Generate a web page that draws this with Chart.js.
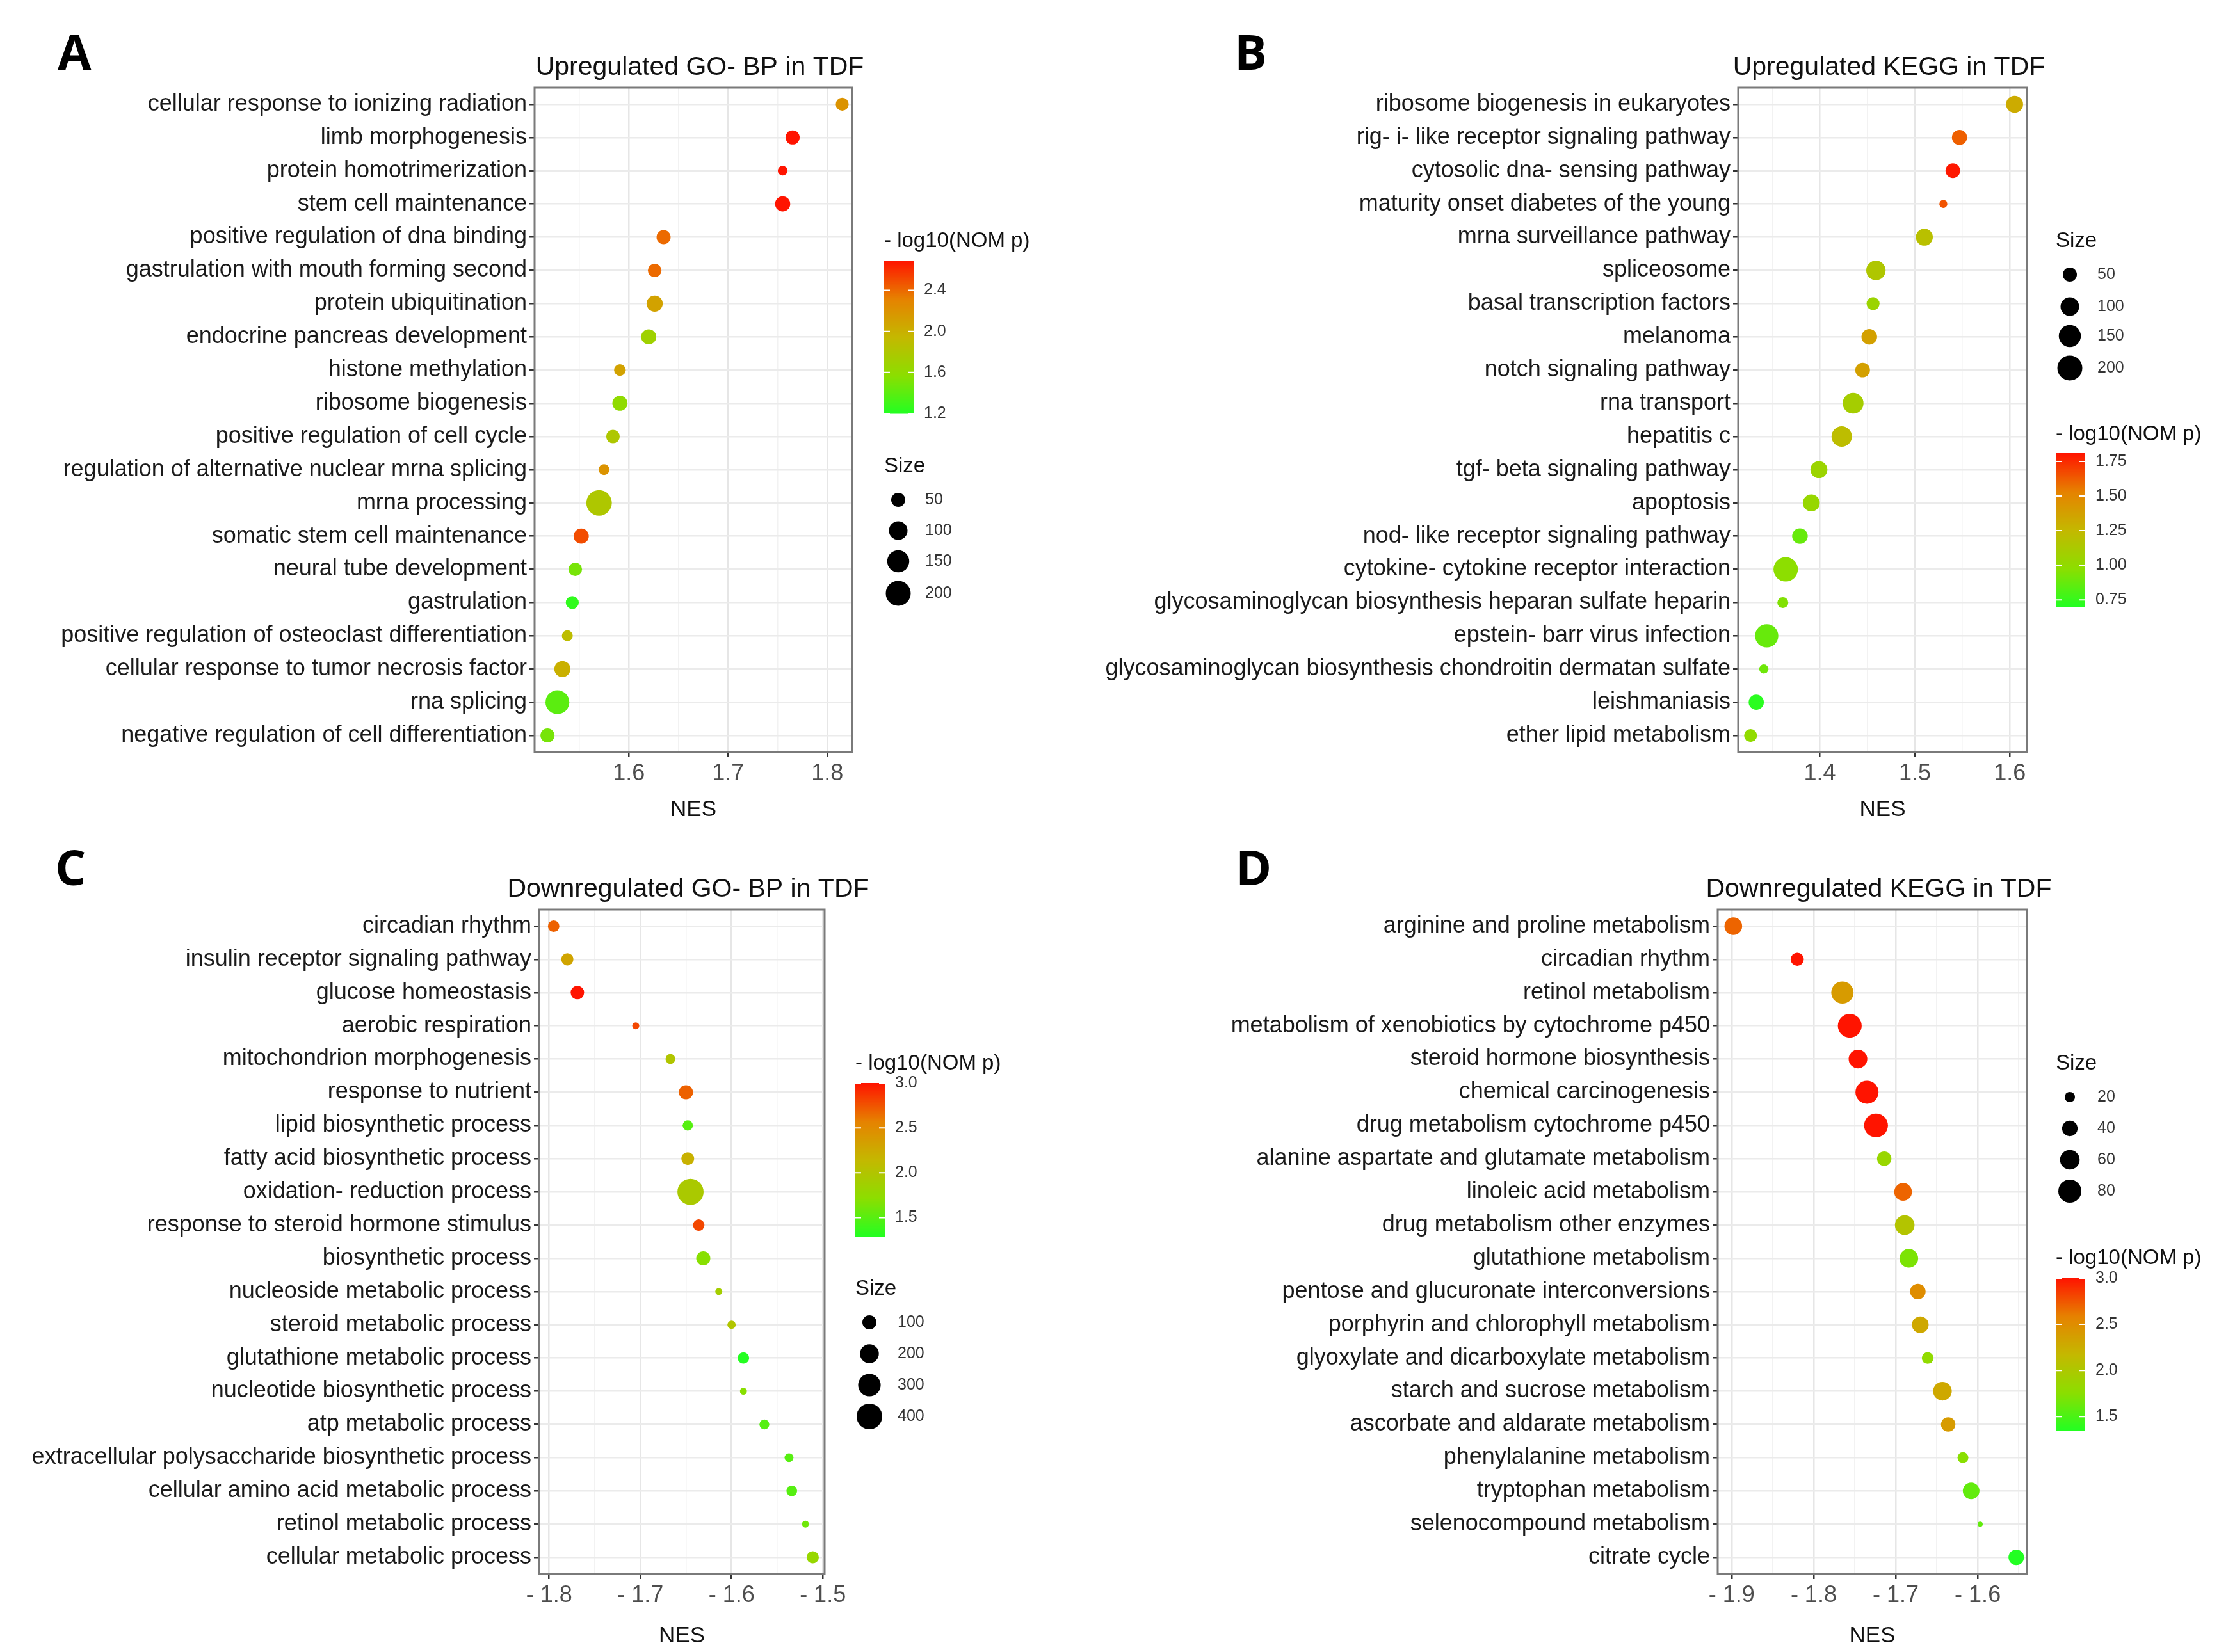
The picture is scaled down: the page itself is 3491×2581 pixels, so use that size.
<!DOCTYPE html>
<html><head><meta charset="utf-8">
<script src="https://cdn.jsdelivr.net/npm/chart.js@4"></script>
<style>
html,body{margin:0;padding:0;background:#fff;}
#wrap{position:relative;width:3491px;height:2581px;background:#fff;overflow:hidden;}
.pane{position:absolute;}
.letter{position:absolute;font-family:"Open Sans",sans-serif;font-weight:700;font-size:76px;color:#000;line-height:1;}
</style></head><body>
<div id="wrap">
<div class="pane" style="left:0;top:0;width:1700px;height:1290px"><canvas id="cA"></canvas></div>
<div class="pane" style="left:1700px;top:0;width:1791px;height:1290px"><canvas id="cB"></canvas></div>
<div class="pane" style="left:0;top:1290px;width:1740px;height:1291px"><canvas id="cC"></canvas></div>
<div class="pane" style="left:1740px;top:1290px;width:1751px;height:1291px"><canvas id="cD"></canvas></div>
<div class="letter" style="left:90px;top:42px">A</div>
<div class="letter" style="left:1928px;top:42px">B</div>
<div class="letter" style="left:86px;top:1316px">C</div>
<div class="letter" style="left:1930px;top:1316px">D</div>
</div>
<script>
// ---------- Panel A ----------
const aTerms = ["cellular response to ionizing radiation","limb morphogenesis","protein homotrimerization","stem cell maintenance","positive regulation of dna binding","gastrulation with mouth forming second","protein ubiquitination","endocrine pancreas development","histone methylation","ribosome biogenesis","positive regulation of cell cycle","regulation of alternative nuclear mrna splicing","mrna processing","somatic stem cell maintenance","neural tube development","gastrulation","positive regulation of osteoclast differentiation","cellular response to tumor necrosis factor","rna splicing","negative regulation of cell differentiation"];
const aNES = [1.815,1.765,1.755,1.755,1.635,1.626,1.626,1.620,1.591,1.591,1.584,1.575,1.570,1.552,1.546,1.543,1.538,1.533,1.528,1.518];
const aLogP = [2.2,2.7,2.75,2.75,2.4,2.4,2.1,1.7,2.1,1.6,1.8,2.2,1.8,2.5,1.5,1.25,1.9,2.0,1.4,1.5];
const aSize = [40,50,18,60,50,45,70,60,30,60,45,25,210,60,45,40,25,70,180,50];
const aMajor = [1.6,1.7,1.8];
const aMinor = [1.55,1.65,1.75];
const aColorTicks = [1.2,1.6,2.0,2.4];
const aSizeTicks = [50,100,150,200];
// ---------- Panel B ----------
const bTerms = ["ribosome biogenesis in eukaryotes","rig- i- like receptor signaling pathway","cytosolic dna- sensing pathway","maturity onset diabetes of the young","mrna surveillance pathway","spliceosome","basal transcription factors","melanoma","notch signaling pathway","rna transport","hepatitis c","tgf- beta signaling pathway","apoptosis","nod- like receptor signaling pathway","cytokine- cytokine receptor interaction","glycosaminoglycan biosynthesis heparan sulfate heparin","epstein- barr virus infection","glycosaminoglycan biosynthesis chondroitin dermatan sulfate","leishmaniasis","ether lipid metabolism"];
const bNES = [1.605,1.547,1.540,1.530,1.510,1.459,1.456,1.452,1.445,1.435,1.423,1.399,1.391,1.379,1.364,1.361,1.344,1.341,1.333,1.327];
const bLogP = [1.32,1.62,1.8,1.65,1.2,1.15,1.05,1.38,1.38,1.1,1.22,1.05,1.03,0.88,0.98,0.95,0.88,0.9,0.72,1.0];
const bSize = [80,60,55,10,80,110,40,65,55,130,125,80,80,65,190,25,170,15,60,40];
const bMajor = [1.4,1.5,1.6];
const bMinor = [1.35,1.45,1.55];
const bColorTicks = [0.75,1.00,1.25,1.50,1.75];
const bSizeTicks = [50,100,150,200];
// ---------- Panel C ----------
const cTerms = ["circadian rhythm","insulin receptor signaling pathway","glucose homeostasis","aerobic respiration","mitochondrion morphogenesis","response to nutrient","lipid biosynthetic process","fatty acid biosynthetic process","oxidation- reduction process","response to steroid hormone stimulus","biosynthetic process","nucleoside metabolic process","steroid metabolic process","glutathione metabolic process","nucleotide biosynthetic process","atp metabolic process","extracellular polysaccharide biosynthetic process","cellular amino acid metabolic process","retinol metabolic process","cellular metabolic process"];
const cNES = [-1.795,-1.780,-1.769,-1.705,-1.667,-1.650,-1.648,-1.648,-1.645,-1.636,-1.631,-1.614,-1.600,-1.587,-1.587,-1.564,-1.537,-1.534,-1.519,-1.511];
const cLogP = [2.7,2.3,3.0,2.8,2.0,2.7,1.5,2.2,1.95,2.8,1.7,1.9,2.0,1.3,1.7,1.5,1.5,1.5,1.6,1.8];
const cSize = [60,70,90,15,40,100,45,80,420,60,100,15,25,60,15,40,30,50,15,70];
const cMajor = [-1.8,-1.7,-1.6,-1.5];
const cMinor = [-1.75,-1.65,-1.55];
const cColorTicks = [1.5,2.0,2.5,3.0];
const cSizeTicks = [100,200,300,400];
// ---------- Panel D ----------
const dTerms = ["arginine and proline metabolism","circadian rhythm","retinol metabolism","metabolism of xenobiotics by cytochrome p450","steroid hormone biosynthesis","chemical carcinogenesis","drug metabolism cytochrome p450","alanine aspartate and glutamate metabolism","linoleic acid metabolism","drug metabolism other enzymes","glutathione metabolism","pentose and glucuronate interconversions","porphyrin and chlorophyll metabolism","glyoxylate and dicarboxylate metabolism","starch and sucrose metabolism","ascorbate and aldarate metabolism","phenylalanine metabolism","tryptophan metabolism","selenocompound metabolism","citrate cycle"];
const dNES = [-1.898,-1.820,-1.765,-1.756,-1.746,-1.735,-1.724,-1.714,-1.691,-1.689,-1.684,-1.673,-1.670,-1.661,-1.643,-1.636,-1.618,-1.608,-1.597,-1.553];
const dLogP = [2.7,3.0,2.4,3.0,3.0,3.0,3.0,1.85,2.7,2.05,1.7,2.5,2.3,1.8,2.3,2.4,1.75,1.6,1.6,1.35];
const dSize = [50,30,75,85,55,80,85,35,50,60,55,40,45,25,55,35,22,45,6,40];
const dMajor = [-1.9,-1.8,-1.7,-1.6];
const dMinor = [-1.85,-1.75,-1.65,-1.55];
const dColorTicks = [1.5,2.0,2.5,3.0];
const dSizeTicks = [20,40,60,80];

const FONT = '"Liberation Sans", Arial, sans-serif';
const stops = [[0,[34,255,34]],[0.25,[140,222,0]],[0.5,[196,184,0]],[0.75,[230,130,0]],[1,[255,20,0]]];
function grad(t){
  t=Math.max(0,Math.min(1,t));
  for(let i=1;i<stops.length;i++){
    if(t<=stops[i][0]){
      const a=stops[i-1],b=stops[i],f=(t-a[0])/(b[0]-a[0]);
      const c=a[1].map((v,k)=>Math.round(v+(b[1][k]-v)*f));
      return `rgb(${c[0]},${c[1]},${c[2]})`;
    }
  }
  return 'rgb(255,20,0)';
}
function fmtTick(v){
  const s=Math.abs(v).toFixed(1);
  return v<0?'- '+s:s;
}

function makePanel(id, cfg){
  const {terms,nes,logp,size,major,minor,cTicks,sTicks,title,xmin,xmax,cmin,cmax,sz,
    left,right,top,bottom,W,H,lay,cbFmt} = cfg;
  const rad = s => Math.max(4, sz[2]+(sz[3]-sz[2])*(Math.sqrt(s)-Math.sqrt(sz[0]))/(Math.sqrt(sz[1])-Math.sqrt(sz[0])));
  const col = v => grad((v-cmin)/(cmax-cmin));
  const isMajor = v => major.some(m=>Math.abs(m-v)<1e-6);
  const el=document.getElementById(id);
  el.width=W; el.height=H; el.style.width=W+'px'; el.style.height=H+'px';
  const fit = {yw:left, xh:H-bottom, pr:W-right, pt:top};
  const plugin = {
    id:'extras'+id,
    afterDraw(chart){
      const ctx=chart.ctx, ca=chart.chartArea;
      ctx.save();
      ctx.strokeStyle='#7a7a7a'; ctx.lineWidth=3;
      ctx.strokeRect(ca.left,ca.top,ca.right-ca.left,ca.bottom-ca.top);
      ctx.fillStyle='#111'; ctx.font='41px '+FONT; ctx.textAlign='center'; ctx.textBaseline='alphabetic';
      ctx.fillText(title,(ca.left+ca.right)/2+10,ca.top-20);
      const L=lay;
      ctx.textAlign='left';
      ctx.font='33px '+FONT; ctx.fillStyle='#111';
      ctx.fillText('- log10(NOM p)',L.cbx,L.cbt);
      const bw=46, h=L.cbb-L.cby;
      for(let i=0;i<h;i++){
        ctx.fillStyle=grad(1-i/h);
        ctx.fillRect(L.cbx,L.cby+i,bw,1.5);
      }
      ctx.font='25px '+FONT; ctx.textBaseline='middle';
      cTicks.forEach(v=>{
        const y=L.cbb-(v-cmin)/(cmax-cmin)*h;
        ctx.strokeStyle='#fff'; ctx.lineWidth=2;
        ctx.beginPath();ctx.moveTo(L.cbx,y);ctx.lineTo(L.cbx+9,y);ctx.moveTo(L.cbx+bw-9,y);ctx.lineTo(L.cbx+bw,y);ctx.stroke();
        ctx.fillStyle='#333';
        ctx.fillText(cbFmt(v),L.cbx+bw+16,y);
      });
      ctx.font='33px '+FONT; ctx.fillStyle='#111'; ctx.textBaseline='alphabetic';
      ctx.fillText('Size',L.cbx,L.st);
      ctx.font='25px '+FONT; ctx.textBaseline='middle';
      sTicks.forEach((v,i)=>{
        ctx.fillStyle='#000';
        ctx.beginPath();ctx.arc(L.dx,L.rows[i],rad(v),0,Math.PI*2);ctx.fill();
        ctx.fillStyle='#333';
        ctx.fillText(String(v),L.lx,L.rows[i]);
      });
      ctx.restore();
    }
  };
  const gridTicks=[...major,...minor].sort((a,b)=>a-b);
  const chart = new Chart(el,{
    type:'scatter',
    data:{labels:terms,datasets:[{
      data:nes.map((x,i)=>({x:x,y:terms[i]})),
      pointRadius:size.map(rad), pointHoverRadius:size.map(rad),
      pointBackgroundColor:logp.map(col), pointBorderWidth:0,
    }]},
    options:{
      responsive:false, animation:false, events:[],
      layout:{padding:{left:0,right:fit.pr,top:fit.pt,bottom:0}},
      plugins:{legend:{display:false},tooltip:{enabled:false},title:{display:false}},
      scales:{
        x:{type:'linear',min:xmin,max:xmax,
          afterBuildTicks(s){ s.ticks=gridTicks.map(v=>({value:v})); },
          afterFit(s){ s.height=fit.xh; },
          ticks:{autoSkip:false,maxRotation:0,color:'#4d4d4d',font:{family:FONT,size:36},padding:4,
            callback:(v)=>isMajor(v)?fmtTick(v):''},
          grid:{color:(c)=>isMajor(c.tick.value)?'#e6e6e6':'#f2f2f2',lineWidth:(c)=>isMajor(c.tick.value)?2.5:1.5,
            tickColor:(c)=>isMajor(c.tick.value)?'#333':'rgba(0,0,0,0)',tickLength:8},
          border:{display:false},
          title:{display:true,text:'NES',color:'#111',font:{family:FONT,size:35},padding:{top:0}}
        },
        y:{type:'category',labels:terms,offset:true,
          afterFit(s){ s.width=fit.yw; },
          ticks:{autoSkip:false,color:'#1a1a1a',font:{family:FONT,size:36},padding:4},
          grid:{color:'#ebebeb',lineWidth:2.5,tickColor:'#333',tickLength:8,offset:false},
          border:{display:false}
        }
      }
    },
    plugins:[plugin]
  });
  for(let k=0;k<3;k++){
    const ca=chart.chartArea;
    fit.yw += left-ca.left;
    fit.pr += ca.right-right;
    fit.pt += top-ca.top;
    fit.xh += ca.bottom-bottom;
    chart.options.layout.padding.right=fit.pr;
    chart.options.layout.padding.top=fit.pt;
    chart.update();
  }
  return chart;
}

makePanel('cA',{terms:aTerms,nes:aNES,logp:aLogP,size:aSize,major:aMajor,minor:aMinor,cTicks:aColorTicks,sTicks:aSizeTicks,
  title:'Upregulated GO- BP in TDF',xmin:1.505,xmax:1.825,cmin:1.2,cmax:2.69,sz:[50,200,11,19.5],
  left:835,right:1331,top:137,bottom:1175,W:1700,H:1290,cbFmt:v=>v.toFixed(1),
  lay:{cbx:1381,cbt:386,cby:407,cbb:646,st:738,rows:[781,829,877,927],dx:1403,lx:1445}});
makePanel('cB',{terms:bTerms,nes:bNES,logp:bLogP,size:bSize,major:bMajor,minor:bMinor,cTicks:bColorTicks,sTicks:bSizeTicks,
  title:'Upregulated KEGG in TDF',xmin:1.314,xmax:1.618,cmin:0.70,cmax:1.81,sz:[50,200,11,19.5],
  left:1015,right:1466,top:137,bottom:1175,W:1791,H:1290,cbFmt:v=>v.toFixed(2),
  lay:{cbx:1511,cbt:688,cby:708,cbb:948,st:386,rows:[429,479,525,575],dx:1533,lx:1576}});
makePanel('cC',{terms:cTerms,nes:cNES,logp:cLogP,size:cSize,major:cMajor,minor:cMinor,cTicks:cColorTicks,sTicks:cSizeTicks,
  title:'Downregulated GO- BP in TDF',xmin:-1.811,xmax:-1.498,cmin:1.29,cmax:3.0,sz:[100,400,11,20],
  left:842,right:1288,top:131,bottom:1169,W:1740,H:1291,cbFmt:v=>v.toFixed(1),
  lay:{cbx:1336,cbt:381,cby:402,cbb:642,st:733,rows:[776,825,874,923],dx:1358,lx:1402}});
makePanel('cD',{terms:dTerms,nes:dNES,logp:dLogP,size:dSize,major:dMajor,minor:dMinor,cTicks:dColorTicks,sTicks:dSizeTicks,
  title:'Downregulated KEGG in TDF',xmin:-1.917,xmax:-1.54,cmin:1.35,cmax:3.0,sz:[20,80,8,18],
  left:943,right:1426,top:131,bottom:1169,W:1751,H:1291,cbFmt:v=>v.toFixed(1),
  lay:{cbx:1471,cbt:685,cby:707,cbb:945,st:381,rows:[424,473,522,571],dx:1493,lx:1536}});
</script>
</body></html>
